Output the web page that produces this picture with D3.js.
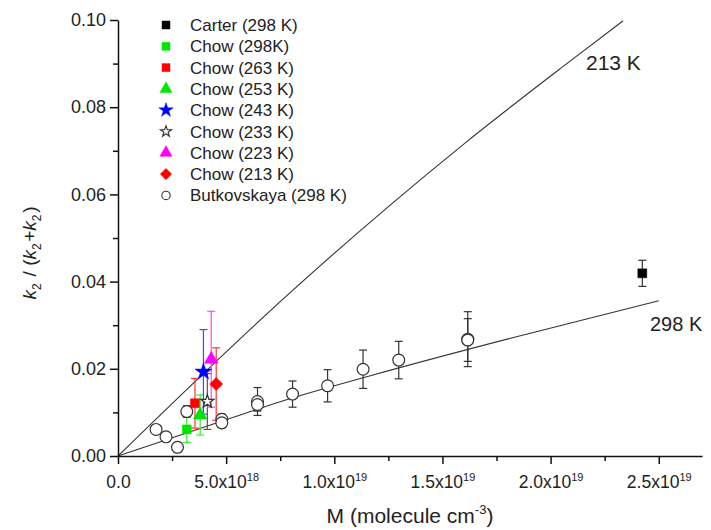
<!DOCTYPE html>
<html>
<head>
<meta charset="utf-8">
<script src="https://cdn.jsdelivr.net/npm/d3@7"></script>
<style>
  body { margin: 0; background: #fff; }
  text { font-family: "Liberation Sans", Arial, sans-serif; fill: #222; }
</style>
</head>
<body>
<svg id="chart" width="711" height="530"></svg>
<script>
// data (M in molecule cm-3, k = k2/(k2+k2), err = half height of error bar)
const carter298 = [{m: 2.424e19, k: 0.0419, err: 0.003}];
const chow298 = [{m: 3.18e18, k: 0.0061, err: 0.003}];
const chow263 = [{m: 3.56e18, k: 0.0121, err: 0.0057}];
const chow253 = [{m: 3.80e18, k: 0.0094, err: 0.0046}];
const chow243 = [{m: 3.95e18, k: 0.0193, err: 0.0097}];
const chow233 = [{m: 4.13e18, k: 0.0125, err: 0.0064}];
const chow223 = [{m: 4.31e18, k: 0.0222, err: 0.011}];
const chow213 = [{m: 4.54e18, k: 0.0165, err: 0.0083}];
const butkovskaya = [
    {m: 1.76e18, k: 0.0061, err: 0.0004},
    {m: 2.22e18, k: 0.0044, err: 0.0004},
    {m: 2.75e18, k: 0.0020, err: 0.0010},
    {m: 3.18e18, k: 0.0102, err: 0.0013},
    {m: 4.80e18, k: 0.0084, err: 0.0012},
    {m: 4.80e18, k: 0.0076, err: 0.0010},
    {m: 6.45e18, k: 0.0125, err: 0.0032},
    {m: 6.45e18, k: 0.0118, err: 0.0015},
    {m: 8.07e18, k: 0.0142, err: 0.0030},
    {m: 9.69e18, k: 0.0161, err: 0.0037},
    {m: 11.33e18, k: 0.0199, err: 0.0044},
    {m: 12.98e18, k: 0.0220, err: 0.0043},
    {m: 16.17e18, k: 0.0268, err: 0.0063},
    {m: 16.17e18, k: 0.0266, err: 0.0049}
];
// fitted curves: [M, k]
const fit298 = [[0, 0], [5.65e18, 0.0094], [7.5e18, 0.01245], [11.67e18, 0.0184], [18.15e18, 0.0270], [25.0e18, 0.0356]];
const fit213 = [[0, 0], [6.1e18, 0.029], [7.5e18, 0.0354], [12.5e18, 0.0572], [16e18, 0.0716], [20.46e18, 0.0889], [23.35e18, 0.0998]];

const xMajor = [0, 5e18, 1e19, 1.5e19, 2e19, 2.5e19];
const xMinor = [2.5e18, 7.5e18, 1.25e19, 1.75e19, 2.25e19];
const yMajor = [0, 0.02, 0.04, 0.06, 0.08, 0.10];
const yMinor = [0.01, 0.03, 0.05, 0.07, 0.09];

const svg = d3.select('#chart');

const x = d3.scaleLinear().domain([0, 2.7e19]).range([118, 702]);
const y = d3.scaleLinear().domain([0, 0.1]).range([456, 20]);

// fit lines
const line = d3.line()
    .x(d => x(d[0]))
    .y(d => y(d[1]))
    .curve(d3.curveMonotoneX);

svg.selectAll('path.fit')
    .data([fit298, fit213])
    .enter().append('path')
    .attr('class', 'fit')
    .attr('d', line)
    .attr('fill', 'none')
    .attr('stroke', '#333')
    .attr('stroke-width', 1.1);

svg.append('text').attr('x', 586).attr('y', 70).style('font-size', '21px').text('213 K');
svg.append('text').attr('x', 650).attr('y', 331).style('font-size', '20px').text('298 K');

// series
const sq = d3.symbolSquare, tri = d3.symbolTriangle, star = d3.symbolStar, circ = d3.symbolCircle;
const series = [
    {name: 'Carter (298 K)', data: carter298, type: sq, color: '#000', fill: '#000', size: 80, bar: '#333'},
    {name: 'Chow (298K)', data: chow298, type: sq, color: '#00e600', fill: '#00e600', size: 80, bar: '#33ee33'},
    {name: 'Chow (263 K)', data: chow263, type: sq, color: '#ff0000', fill: '#ff0000', size: 80, bar: '#ff3333'},
    {name: 'Chow (253 K)', data: chow253, type: tri, color: '#00e600', fill: '#00e600', size: 80, bar: '#33ee33'},
    {name: 'Chow (243 K)', data: chow243, type: star, color: '#0000ff', fill: '#0000ff', size: 90, bar: '#4444ff'},
    {name: 'Chow (233 K)', data: chow233, type: star, color: '#333', fill: '#fff', size: 55, bar: '#555', legendSize: 38},
    {name: 'Chow (223 K)', data: chow223, type: tri, color: '#ff00ff', fill: '#ff00ff', size: 80, bar: '#ff44ff'},
    {name: 'Chow (213 K)', data: chow213, type: sq, color: '#ff0000', fill: '#ff0000', size: 85, bar: '#ff3333', rot: 45},
    {name: 'Butkovskaya (298 K)', data: butkovskaya, type: circ, color: '#333', fill: '#fff', size: 110, bar: '#333', legendSize: 55}
];

// error bars
const drawOrder = [8, 0, 1, 2, 3, 5, 4, 6, 7];
drawOrder.forEach(i => {
    const s = series[i];
    const g = svg.append('g').attr('stroke', s.bar).attr('stroke-width', 1.2);
    s.data.forEach(d => {
        const cx = x(d.m), y1 = y(d.k + d.err), y2 = y(d.k - d.err);
        g.append('line').attr('x1', cx).attr('x2', cx).attr('y1', y1).attr('y2', y2);
        g.append('line').attr('x1', cx - 4).attr('x2', cx + 4).attr('y1', y1).attr('y2', y1);
        g.append('line').attr('x1', cx - 4).attr('x2', cx + 4).attr('y1', y2).attr('y2', y2);
    });
});

// markers
drawOrder.forEach(i => {
    const s = series[i];
    svg.append('g').selectAll('path')
        .data(s.data)
        .enter().append('path')
        .attr('d', d3.symbol().type(s.type).size(s.size))
        .attr('transform', d => `translate(${x(d.m)},${y(d.k)}) rotate(${s.rot || 0})`)
        .attr('fill', s.fill)
        .attr('stroke', s.color)
        .attr('stroke-width', s.fill === '#fff' ? 1.2 : 0.5);
});

// axes
const xAxis = svg.append('g')
    .attr('transform', `translate(0,${y(0)})`)
    .call(d3.axisBottom(x).tickValues(xMajor).tickSize(8).tickSizeOuter(0).tickFormat(''));
svg.append('g')
    .attr('transform', `translate(0,${y(0)})`)
    .call(d3.axisBottom(x).tickValues(xMinor).tickSize(5).tickSizeOuter(0).tickFormat(''))
    .select('.domain').remove();

xAxis.selectAll('.tick text').each(function(d) {
    const t = d3.select(this).attr('y', 32).attr('dy', null).style('font-size', '17.5px').attr('fill', '#222');
    if (d === 0) { t.text('0.0'); return; }
    const e = Math.floor(Math.log10(d));
    t.append('tspan').text((d / Math.pow(10, e)).toFixed(1) + 'x10');
    t.append('tspan').attr('dy', -7).style('font-size', '11px').text(e);
});

const yAxis = svg.append('g')
    .attr('transform', `translate(${x(0)},0)`)
    .call(d3.axisLeft(y).tickValues(yMajor).tickSize(8).tickSizeOuter(0).tickFormat(d3.format('.2f')));
svg.append('g')
    .attr('transform', `translate(${x(0)},0)`)
    .call(d3.axisLeft(y).tickValues(yMinor).tickSize(5).tickSizeOuter(0).tickFormat(''))
    .select('.domain').remove();

yAxis.selectAll('.tick text').attr('x', -12).style('font-size', '18px').attr('fill', '#222');
svg.selectAll('.domain, .tick line').attr('stroke', '#111').attr('stroke-width', 1.5);

// axis titles
const xt = svg.append('text')
    .attr('x', 410).attr('y', 523)
    .attr('text-anchor', 'middle')
    .style('font-size', '21px');
xt.append('tspan').text('M (molecule cm');
xt.append('tspan').attr('dy', -9).style('font-size', '13px').text('-3');
xt.append('tspan').attr('dy', 9).text(')');

const yt = svg.append('text')
    .attr('transform', 'translate(36,253) rotate(-90)')
    .attr('text-anchor', 'middle')
    .style('font-size', '19px');
const k2 = (el) => {
    el.append('tspan').style('font-style', 'italic').text('k');
    el.append('tspan').attr('dy', 5).style('font-size', '12px').text('2');
    el.append('tspan').attr('dy', -5).text('\u200a');
};
k2(yt);
yt.append('tspan').text(' / (');
k2(yt);
yt.append('tspan').text('+');
k2(yt);
yt.append('tspan').text(')');

// legend
const legend = svg.append('g');
series.forEach((s, i) => {
    const ly = 25 + i * 21.3;
    legend.append('path')
        .attr('d', d3.symbol().type(s.type).size(s.legendSize || 64)())
        .attr('transform', `translate(166,${ly}) rotate(${s.rot || 0})`)
        .attr('fill', s.fill)
        .attr('stroke', s.color)
        .attr('stroke-width', s.fill === '#fff' ? 1.1 : 0.5);
    legend.append('text')
        .attr('x', 190).attr('y', ly + 6)
        .style('font-size', '17px')
        .text(s.name);
});
</script>
</body>
</html>
